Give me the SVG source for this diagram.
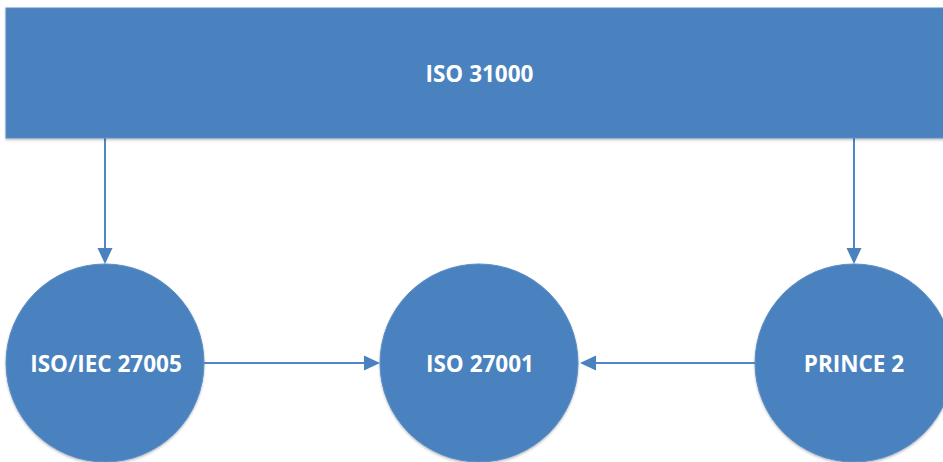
<svg xmlns="http://www.w3.org/2000/svg" width="943" height="462" viewBox="0 0 943 462">
  <defs>
    <style>
      .shape { fill: #4A82BF; stroke: #5B8CC4; stroke-width: 1; }
      .label { font-family: "Open Sans", "Liberation Sans", sans-serif; font-weight: bold; font-size: 22.5px; fill: #FFFFFF; text-anchor: middle; }
      .conn { stroke: #4F87C6; stroke-width: 2; fill: none; }
      .head { fill: #4A82BF; }
    </style>
    <filter id="shadow" x="-10%" y="-10%" width="120%" height="130%">
      <feDropShadow dx="0" dy="1.5" stdDeviation="1.2" flood-color="#000000" flood-opacity="0.25"/>
    </filter>
  </defs>
  <rect width="943" height="462" fill="#FFFFFF"/>
  <g id="connectors">
    <line class="conn" x1="105" y1="138" x2="105" y2="250"/>
    <path class="head" d="M97.5,248 L112.5,248 L105,264 Z"/>
    <line class="conn" x1="854" y1="138" x2="854" y2="250"/>
    <path class="head" d="M846.5,248 L861.5,248 L854,264 Z"/>
    <line class="conn" x1="204" y1="363" x2="366" y2="363"/>
    <path class="head" d="M364,355.5 L364,370.5 L380,363 Z"/>
    <line class="conn" x1="755" y1="363" x2="594" y2="363"/>
    <path class="head" d="M596,355.5 L596,370.5 L580,363 Z"/>
  </g>
  <g id="iso31000">
    <rect class="shape" x="6" y="8" width="940" height="130" filter="url(#shadow)"/>
    <text class="label" x="479.5" y="82">ISO 31000</text>
  </g>
  <g id="isoiec27005">
    <circle class="shape" cx="105" cy="363" r="99" filter="url(#shadow)"/>
    <text class="label" x="106" y="372">ISO/IEC 27005</text>
  </g>
  <g id="iso27001">
    <circle class="shape" cx="479" cy="363" r="99" filter="url(#shadow)"/>
    <text class="label" x="480" y="372">ISO 27001</text>
  </g>
  <g id="prince2">
    <circle class="shape" cx="854" cy="363" r="99" filter="url(#shadow)"/>
    <text class="label" x="854" y="372">PRINCE 2</text>
  </g>
</svg>
